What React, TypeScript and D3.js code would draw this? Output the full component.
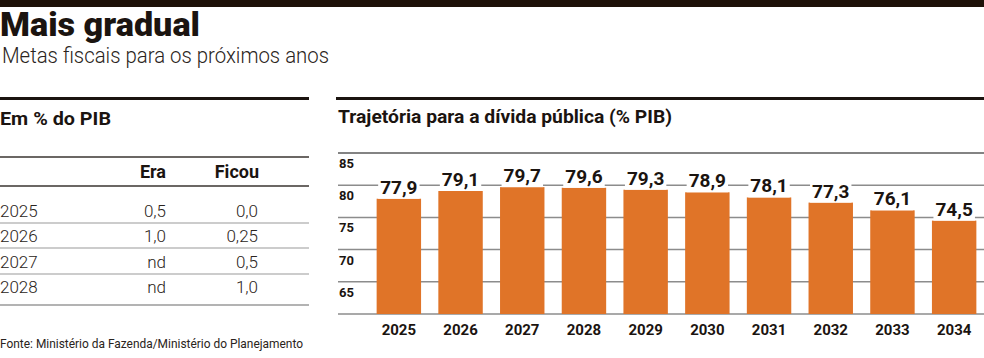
import React, { useEffect, useRef } from "react";
import * as d3 from "d3";

const years = ["2025", "2026", "2027", "2028", "2029", "2030", "2031", "2032", "2033", "2034"];
const debt = [77.9, 79.1, 79.7, 79.6, 79.3, 78.9, 78.1, 77.3, 76.1, 74.5];
const yTicks = [85, 80, 75, 70, 65];

const tableYears = ["2025", "2026", "2027", "2028"];
const eraValues = ["0,5", "1,0", "nd", "nd"];
const ficouValues = ["0,0", "0,25", "0,5", "1,0"];

const W = 984;
const H = 358;
const ORANGE = "#e07428";
const INK = "#1b1410";
const SANS = "Roboto, 'Noto Sans', sans-serif";

export default function App() {
  const svgRef = useRef<SVGSVGElement>(null);

  useEffect(() => {
    const svg = d3.select(svgRef.current);
    svg.selectAll("*").remove();
    svg.attr("width", W).attr("height", H).style("font-family", SANS);

    // header
    svg.append("rect").attr("x", 0).attr("y", 0).attr("width", W).attr("height", 7).attr("fill", "#1e1109");
    svg
      .append("text")
      .attr("x", 0)
      .attr("y", 36)
      .attr("font-size", 33)
      .attr("font-weight", 900)
      .attr("fill", INK)
      .attr("textLength", 200)
      .attr("lengthAdjust", "spacingAndGlyphs")
      .text("Mais gradual");
    svg
      .append("text")
      .attr("x", 2)
      .attr("y", 63)
      .attr("font-size", 22)
      .attr("font-weight", 300)
      .attr("fill", "#2a2420")
      .attr("textLength", 327)
      .attr("lengthAdjust", "spacingAndGlyphs")
      .text("Metas fiscais para os próximos anos");

    // left table
    const left = svg.append("g");
    left.append("rect").attr("x", 0).attr("y", 97).attr("width", 309).attr("height", 3).attr("fill", INK);
    left
      .append("text")
      .attr("x", 0)
      .attr("y", 125)
      .attr("font-size", 18)
      .attr("font-weight", 700)
      .attr("fill", INK)
      .attr("textLength", 111)
      .attr("lengthAdjust", "spacingAndGlyphs")
      .text("Em % do PIB");

    const rowY = d3.scalePoint<string>().domain(tableYears).range([217, 293]);
    const hLines = [
      { y: 157, c: "#3a3430", w: 1.5 },
      { y: 186, c: "#3a3430", w: 1.5 },
      { y: 223, c: "#9a9a9a", w: 1.2 },
      { y: 248, c: "#9a9a9a", w: 1.2 },
      { y: 274, c: "#9a9a9a", w: 1.2 },
      { y: 305, c: "#9a9a9a", w: 1.5 },
    ];
    left
      .selectAll("line.tl")
      .data(hLines)
      .join("line")
      .attr("x1", 0)
      .attr("x2", 309)
      .attr("y1", (d) => d.y)
      .attr("y2", (d) => d.y)
      .attr("stroke", (d) => d.c)
      .attr("stroke-width", (d) => d.w);

    const hdr = [
      { t: "Era", x: 166 },
      { t: "Ficou", x: 259 },
    ];
    left
      .selectAll("text.hdr")
      .data(hdr)
      .join("text")
      .attr("x", (d) => d.x)
      .attr("y", 178)
      .attr("text-anchor", "end")
      .attr("font-size", 18)
      .attr("font-weight", 700)
      .attr("fill", INK)
      .text((d) => d.t);

    const rows = left.selectAll("g.row").data(tableYears).join("g");
    rows
      .append("text")
      .attr("x", 0)
      .attr("y", (d) => rowY(d)!)
      .attr("font-size", 17)
      .attr("font-weight", 300)
      .attr("fill", "#2a2420")
      .text((d) => d);
    rows
      .append("text")
      .attr("x", 166)
      .attr("y", (d) => rowY(d)!)
      .attr("text-anchor", "end")
      .attr("font-size", 17)
      .attr("font-weight", 300)
      .attr("fill", "#2a2420")
      .text((d, i) => eraValues[i]);
    rows
      .append("text")
      .attr("x", 258)
      .attr("y", (d) => rowY(d)!)
      .attr("text-anchor", "end")
      .attr("font-size", 17)
      .attr("font-weight", 300)
      .attr("fill", "#2a2420")
      .text((d, i) => ficouValues[i]);

    svg
      .append("text")
      .attr("x", 0)
      .attr("y", 348)
      .attr("font-size", 13)
      .attr("fill", "#2a2420")
      .attr("textLength", 303)
      .attr("lengthAdjust", "spacingAndGlyphs")
      .text("Fonte: Ministério da Fazenda/Ministério do Planejamento");

    // right chart
    const right = svg.append("g");
    right.append("rect").attr("x", 336).attr("y", 97).attr("width", W - 336).attr("height", 3).attr("fill", INK);
    right
      .append("text")
      .attr("x", 338)
      .attr("y", 123)
      .attr("font-size", 18)
      .attr("font-weight", 700)
      .attr("fill", INK)
      .attr("textLength", 334)
      .attr("lengthAdjust", "spacingAndGlyphs")
      .text("Trajetória para a dívida pública (% PIB)");

    const x = d3.scaleBand<string>().domain(years).range([368, 985]).paddingInner(0.28).paddingOuter(0.14);
    const y = d3.scaleLinear().domain([60, 85]).range([314, 153]);

    right
      .selectAll("line.grid")
      .data(yTicks)
      .join("line")
      .attr("x1", 338)
      .attr("x2", W)
      .attr("y1", (d) => y(d))
      .attr("y2", (d) => y(d))
      .attr("stroke", (d) => (d === 85 ? "#5a5a5a" : "#8c8c8c"))
      .attr("stroke-width", 1.5);
    right
      .append("line")
      .attr("x1", 338)
      .attr("x2", W)
      .attr("y1", y(60))
      .attr("y2", y(60))
      .attr("stroke", "#8c8c8c")
      .attr("stroke-width", 1.5);

    right
      .selectAll("text.ytick")
      .data(yTicks)
      .join("text")
      .attr("x", 339)
      .attr("y", (d) => y(d) + 15)
      .attr("font-size", 13)
      .attr("font-weight", 700)
      .attr("fill", INK)
      .text((d) => d);

    right
      .selectAll("rect.bar")
      .data(debt)
      .join("rect")
      .attr("x", (d, i) => x(years[i])!)
      .attr("y", (d) => y(d))
      .attr("width", x.bandwidth())
      .attr("height", (d) => y(60) - y(d))
      .attr("fill", ORANGE);

    const fmt = (v: number) => d3.format(".1f")(v).replace(".", ",");
    const labels = right.selectAll("g.lab").data(debt).join("g");
    const labBg = labels.append("rect").attr("fill", "#fff");
    const labTxt = labels
      .append("text")
      .attr("x", (d, i) => x(years[i])! + x.bandwidth() / 2)
      .attr("y", (d) => y(d) - 5)
      .attr("text-anchor", "middle")
      .attr("font-size", 19)
      .attr("font-weight", 700)
      .attr("fill", INK)
      .text((d) => fmt(d));
    labTxt.each(function (d, i) {
      const b = (this as SVGTextElement).getBBox();
      d3.select(labBg.nodes()[i])
        .attr("x", b.x - 2)
        .attr("y", b.y)
        .attr("width", b.width + 4)
        .attr("height", b.height);
    });

    right
      .selectAll("text.xtick")
      .data(years)
      .join("text")
      .attr("x", (d) => x(d)! + x.bandwidth() / 2)
      .attr("y", 335)
      .attr("text-anchor", "middle")
      .attr("font-size", 15)
      .attr("font-weight", 700)
      .attr("fill", INK)
      .text((d) => d);
  }, []);

  return (
    <div style={{ position: "absolute", left: 0, top: 0 }}>
      <svg ref={svgRef} style={{ display: "block" }}></svg>
    </div>
  );
}
